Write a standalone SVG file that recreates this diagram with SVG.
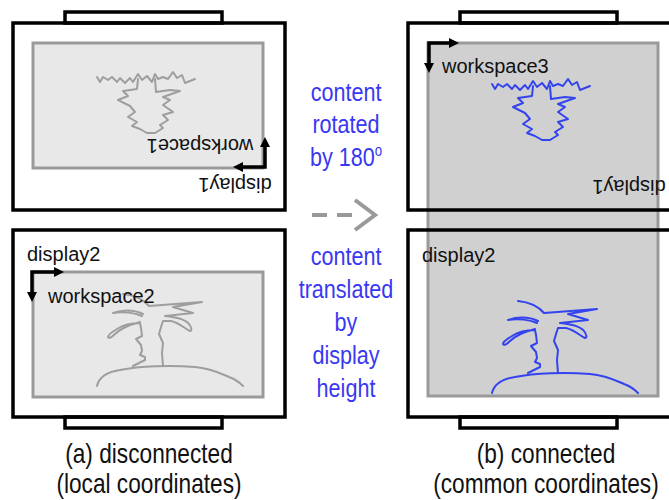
<svg xmlns="http://www.w3.org/2000/svg" xmlns:xlink="http://www.w3.org/1999/xlink" width="669" height="500" viewBox="0 0 669 500">
  <style>
    .frame { fill: none; stroke: #000; stroke-width: 3.5; }
    .tab { fill: #fff; stroke: #000; stroke-width: 3.5; }
    .ws-local { fill: #e8e8e8; stroke: #9a9a9a; stroke-width: 3; }
    .ws-common { fill: #d0d0d0; stroke: #9a9a9a; stroke-width: 3; }
    .axis { fill: none; stroke: #000; stroke-width: 3.5; marker-start: url(#head-rev); marker-end: url(#head); }
    .label { font-family: "Liberation Sans", Arial, sans-serif; font-size: 20px; fill: #111; }
    .note { font-family: "Liberation Sans", Arial, sans-serif; font-size: 26px; fill: #3838f2; text-anchor: middle; }
    .caption { font-family: "Liberation Sans", Arial, sans-serif; font-size: 27px; fill: #111; text-anchor: middle; }
    .sketch-gray { fill: none; stroke: #9e9e9e; stroke-width: 2; stroke-linejoin: round; stroke-linecap: round; }
    .sketch-blue { fill: none; stroke: #3344ee; stroke-width: 2; stroke-linejoin: round; stroke-linecap: round; }
    .move { fill: none; stroke: #999; stroke-width: 4; }
  </style>
  <defs>
    <marker id="head" markerUnits="userSpaceOnUse" markerWidth="11" markerHeight="11" refX="5" refY="5" orient="auto">
      <path d="M0,0 L10,5 L0,10 Z" fill="#000"/>
    </marker>
    <marker id="head-rev" markerUnits="userSpaceOnUse" markerWidth="11" markerHeight="11" refX="5" refY="5" orient="auto-start-reverse">
      <path d="M0,0 L10,5 L0,10 Z" fill="#000"/>
    </marker>
    <!-- hanging tree sketch, in display1 local coordinates -->
    <g id="tree">
      <path d="M97,77 L100,82 L103,77 L108,80 L112,77 L117,82 L120,78 L125,83 L130,78 L133,82 L138,74 L142,80 L147,76 L152,82 L155,74 L158,79 L163,77 L168,79 L173,72 L177,78 L182,75 L185,83 L195,79"/>
      <path d="M138,79 L137,89 L123,91 L128,96 L118,100 L130,106 L135,112 L128,117 L137,122 L132,126 L140,129 L147,133 L155,133 L163,128 L160,125 L168,120 L163,115 L173,112 L163,105 L170,100 L163,97 L180,91 L170,90 L156,92 L155,79"/>
    </g>
    <!-- palm island sketch, in common coordinates -->
    <g id="palm">
      <path d="M492,393 C494,384 502,379 515,377 C535,373 565,372 590,374 C605,375 615,380 624,384 C630,386 634,389 638,393"/>
      <path d="M528,373 L540,367 L540,364 L535,362 L537,358 L536,352 L531,346 L537,343 L536,335 L535,330 C527,330 518,332 512,336 C507,339 503,342 503,344 C504,346 507,344 510,341 C515,336 524,332 535,329"/>
      <path d="M537,323 C530,320 518,318 508,320 C516,317 528,316 538,321"/>
      <path d="M518,301 C528,302 538,306 544,313 L597,309 L568,314 L588,320 L560,323 C570,324 580,326 584,331 C587,335 587,338 585,338 C580,336 575,330 566,328 L558,328 L556,334 L554,341 L558,350 L557,360 L558,373"/>
    </g>
  </defs>

  <rect x="0" y="0" width="669" height="500" fill="#fff"/>

  <!-- (a) disconnected: display1, rotated by 180 degrees -->
  <g id="display1-local">
    <rect class="tab" x="65" y="12" width="157" height="11"/>
    <rect class="frame" x="13" y="23" width="272" height="187"/>
    <rect class="ws-local" x="33" y="43" width="230" height="125"/>
    <use xlink:href="#tree" class="sketch-gray"/>
    <text class="label" text-anchor="middle" transform="translate(200,139) rotate(180)">workspace1</text>
    <text class="label" text-anchor="middle" transform="translate(235,178) rotate(180)">display1</text>
    <path class="axis" d="M238,167 L265,167 L265,142"/>
  </g>

  <!-- (a) disconnected: display2 -->
  <g id="display2-local">
    <rect class="tab" x="65" y="417" width="157" height="11"/>
    <rect class="frame" x="13" y="230" width="272" height="187"/>
    <rect class="ws-local" x="33" y="272" width="230" height="125"/>
    <use xlink:href="#palm" class="sketch-gray" transform="translate(-395,-7)"/>
    <text class="label" x="27" y="261">display2</text>
    <text class="label" x="48" y="303">workspace2</text>
    <path class="axis" d="M59,272 L32,272 L32,297"/>
  </g>

  <!-- (b) connected: one workspace spanning both displays -->
  <g id="workspace3-common">
    <rect class="ws-common" x="428" y="43" width="230" height="353"/>
  </g>

  <g id="display1-common">
    <rect class="tab" x="460" y="12" width="157" height="11"/>
    <rect class="frame" x="408" y="23" width="272" height="187"/>
    <text class="label" text-anchor="middle" transform="translate(629,180) rotate(180)">display1</text>
  </g>

  <g id="display2-common">
    <rect class="tab" x="460" y="417" width="157" height="11"/>
    <rect class="frame" x="408" y="230" width="272" height="187"/>
    <text class="label" x="422" y="262">display2</text>
  </g>

  <g id="workspace3-content">
    <use xlink:href="#tree" class="sketch-blue" transform="translate(395,7)"/>
    <use xlink:href="#palm" class="sketch-blue"/>
    <text class="label" x="442" y="73">workspace3</text>
    <path class="axis" d="M454,43 L429,43 L429,68"/>
  </g>

  <!-- transformation notes -->
  <g id="note-rotate" transform="translate(346,0) scale(0.83,1)">
    <text class="note" x="0" y="101">content</text>
    <text class="note" x="0" y="133.5">rotated</text>
    <text class="note" x="0" y="166">by 180<tspan font-size="16" dy="-10">o</tspan></text>
  </g>
  <g id="note-translate" transform="translate(346,0) scale(0.83,1)">
    <text class="note" x="0" y="265">content</text>
    <text class="note" x="0" y="298">translated</text>
    <text class="note" x="0" y="331">by</text>
    <text class="note" x="0" y="364">display</text>
    <text class="note" x="0" y="397">height</text>
  </g>

  <g id="connectors">
    <path class="move" d="M312,215 L352,215" stroke-dasharray="15 10"/>
    <polyline class="move" points="355,200 375,215 355,230"/>
  </g>

  <!-- captions -->
  <g id="caption-a" transform="translate(149,0) scale(0.84,1)">
    <text class="caption" x="0" y="463">(a) disconnected</text>
    <text class="caption" x="0" y="493">(local coordinates)</text>
  </g>
  <g id="caption-b" transform="translate(546,0) scale(0.84,1)">
    <text class="caption" x="0" y="463">(b) connected</text>
    <text class="caption" x="0" y="493">(common coordinates)</text>
  </g>
</svg>
